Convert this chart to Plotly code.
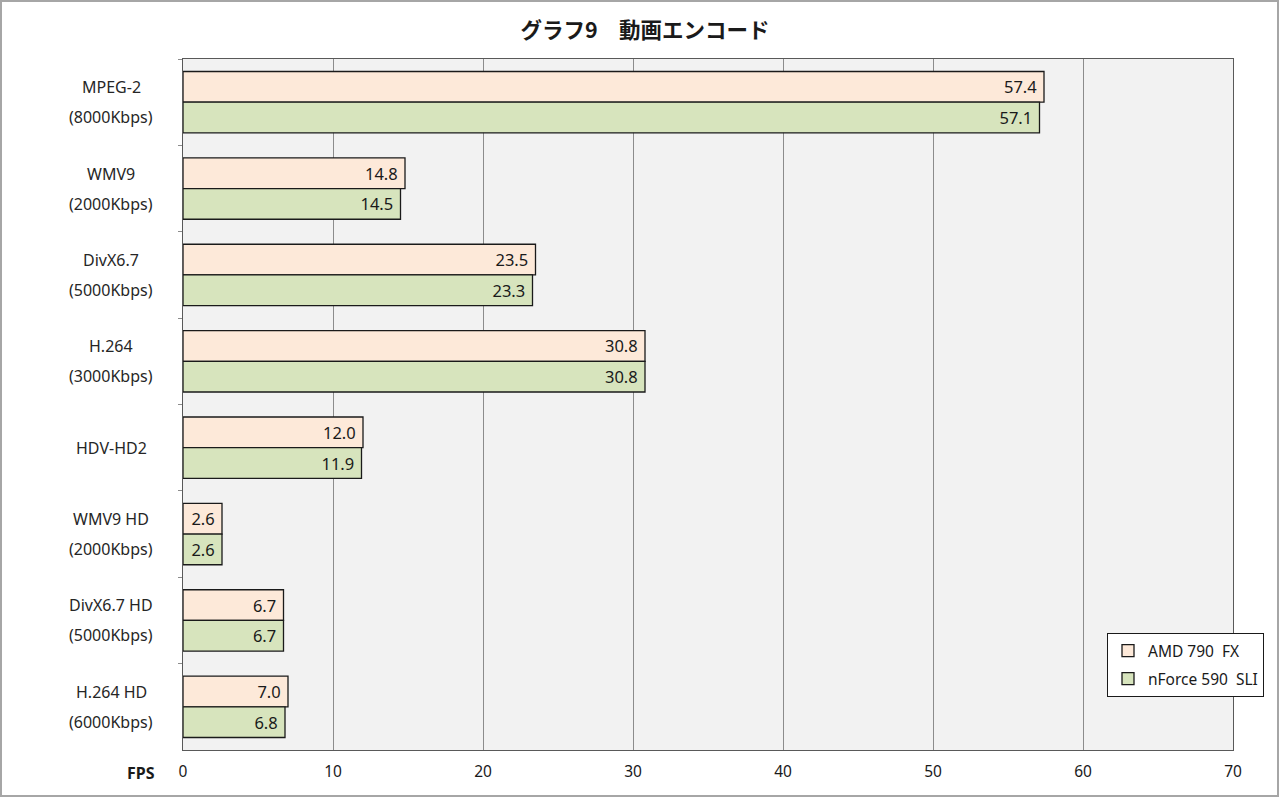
import plotly.graph_objects as go

# ---- data ----
categories = ["MPEG-2 (8000Kbps)", "WMV9 (2000Kbps)", "DivX6.7 (5000Kbps)", "H.264 (3000Kbps)",
              "HDV-HD2", "WMV9 HD (2000Kbps)", "DivX6.7 HD (5000Kbps)", "H.264 HD (6000Kbps)"]
label_line1 = ["MPEG-2", "WMV9", "DivX6.7", "H.264", "HDV-HD2", "WMV9 HD", "DivX6.7 HD", "H.264 HD"]
label_line2 = ["(8000Kbps)", "(2000Kbps)", "(5000Kbps)", "(3000Kbps)", "", "(2000Kbps)", "(5000Kbps)", "(6000Kbps)"]
series_names = ["AMD 790\u00a0 FX", "nForce 590\u00a0 SLI"]
amd_values = [57.4, 14.8, 23.5, 30.8, 12.0, 2.6, 6.7, 7.0]
nforce_values = [57.1, 14.5, 23.3, 30.8, 11.9, 2.6, 6.7, 6.8]
x_tick_values = [0, 10, 20, 30, 40, 50, 60, 70]
title_text = "グラフ9\u3000動画エンコード"
axis_label = "FPS"

FONT = "Noto Sans, Noto Sans CJK JP, sans-serif"
TFONT = "Noto Sans CJK JP, sans-serif"
W, H = 1280, 798
L, R, T, B = 183, 47, 59, 48
pw, ph = W - L - R, H - T - B

fig = go.Figure()
colors = ["#fde9d9", "#d7e4bd"]
for name, vals, col, grp in zip(series_names, [amd_values, nforce_values], colors, ["a", "b"]):
    fig.add_trace(go.Bar(
        y=categories, x=vals, name=name, orientation="h",
        marker=dict(color=col, line=dict(color="#1a1a1a", width=1.3)),
        texttemplate="%{x:.1f}\u00a0", textposition="inside", insidetextanchor="end",
        constraintext="none",
        textfont=dict(family=FONT, size=16.5, color="#1a1a1a"),
        legendgroup=grp, cliponaxis=False,
    ))

annotations = []
lx = (111 - L) / pw
LBL = dict(family=FONT, size=16, color="#262626")
for cat, l1, l2 in zip(categories, label_line1, label_line2):
    if l2:
        annotations.append(dict(xref="paper", yref="y", x=lx, y=cat, text=l1, showarrow=False,
                                xanchor="center", yanchor="middle", yshift=15, font=LBL))
        annotations.append(dict(xref="paper", yref="y", x=lx, y=cat, text=l2, showarrow=False,
                                xanchor="center", yanchor="middle", yshift=-15, font=LBL))
    else:
        annotations.append(dict(xref="paper", yref="y", x=lx, y=cat, text=l1, showarrow=False,
                                xanchor="center", yanchor="middle", font=LBL))

annotations.append(dict(xref="paper", yref="paper", x=(141 - L) / pw, y=-(773 - (T + ph)) / ph,
                        text="<b>" + axis_label + "</b>", showarrow=False, xanchor="center", yanchor="middle",
                        font=dict(family=FONT, size=16, color="#1a1a1a")))

shapes = [dict(type="rect", xref="paper", yref="paper",
               x0=(1 - L) / pw, x1=(1278 - L) / pw,
               y0=-(796 - (T + ph)) / ph, y1=(T + ph - 1) / ph,
               line=dict(color="#a6a6a6", width=2), fillcolor="rgba(0,0,0,0)", layer="below")]

fig.update_layout(
    width=W, height=H, margin=dict(l=L, r=R, t=T, b=B),
    paper_bgcolor="white", plot_bgcolor="#f2f2f2",
    barmode="group", bargap=0.29, bargroupgap=0,
    title=dict(text="<b>" + title_text + "</b>", x=645 / W, xanchor="center", y=1 - 30 / H, yanchor="middle",
               font=dict(family=TFONT, size=21.5, color="#1a1a1a")),
    xaxis=dict(range=[0, 70], tickvals=x_tick_values, showgrid=True, gridcolor="#8c8c8c", gridwidth=1,
               zeroline=False, showline=True, linecolor="#595959", linewidth=1, mirror=True,
               ticks="", ticklabelstandoff=7,
               tickfont=dict(family=FONT, size=15.5, color="#1a1a1a")),
    yaxis=dict(autorange="reversed", showticklabels=False, ticks="outside", tickson="boundaries",
               ticklen=4, tickcolor="#8c8c8c", showline=True, linecolor="#595959", linewidth=1,
               mirror=True, showgrid=False),
    legend=dict(x=(1107 - L) / pw, y=(T + ph - 633) / ph, xanchor="left", yanchor="top",
                bgcolor="white", bordercolor="#1a1a1a", borderwidth=1,
                traceorder="grouped", tracegroupgap=5, itemwidth=30,
                font=dict(family=FONT, size=15.5, color="#1a1a1a")),
    annotations=annotations, shapes=shapes,
)

fig.write_html("out.html")
